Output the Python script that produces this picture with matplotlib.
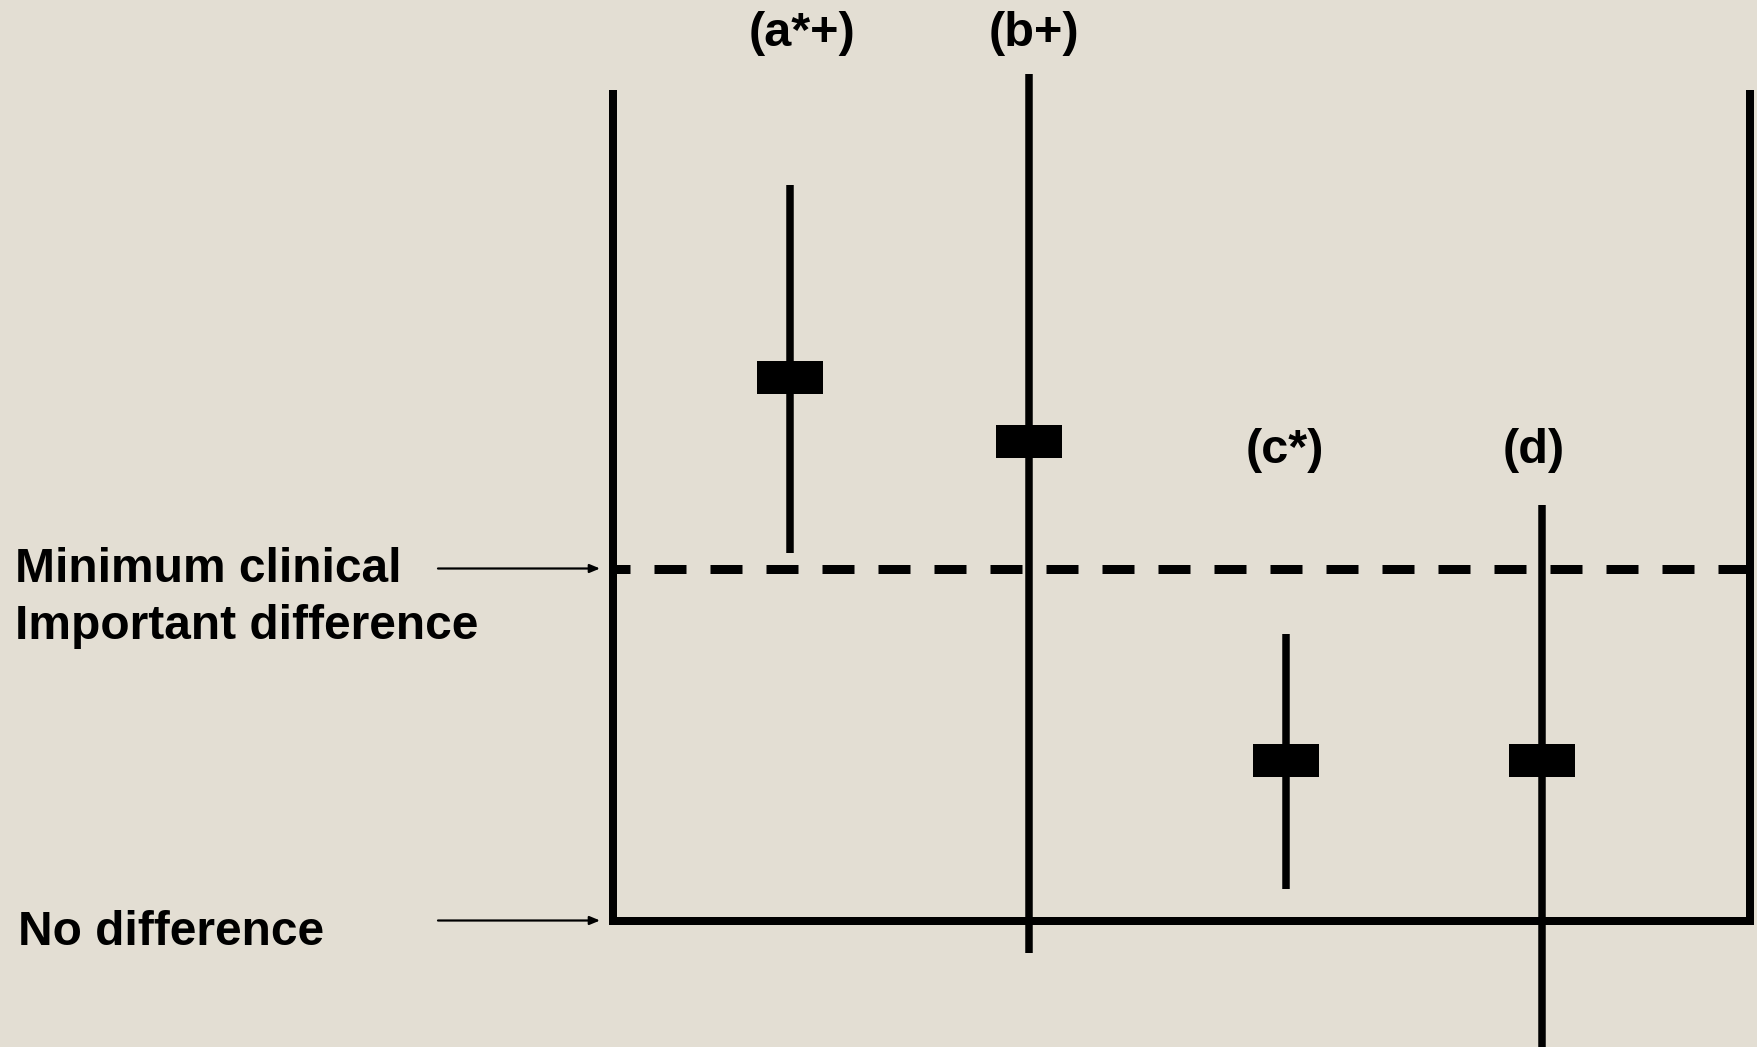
import matplotlib
matplotlib.use("Agg")
import matplotlib.pyplot as plt

# ---- data ----
labels = ["(a*+)", "(b+)", "(c*)", "(d)"]
estimates = [1.545, 1.363, 0.456, 0.456]
ci_low = [1.044, -0.092, 0.089, -0.50]
ci_high = [2.089, 2.405, 0.815, 1.180]
label_heights = [2.520, 2.520, 1.335, 1.335]
mcid_value = 1.0
no_diff_value = 0.0

# ---- layout ----
xpos = [1.56, 3.66, 5.92, 8.17]
label_dx = [0.10, 0.04, -0.01, -0.07]
BG = "#E3DED3"
FONT = ["Liberation Sans", "DejaVu Sans"]
PX = 72 / 100  # points per pixel at dpi 100

fig = plt.figure(figsize=(17.58, 10.47), dpi=100, facecolor=BG)
ax = fig.add_axes([613 / 1758, (1047 - 920.5) / 1047, (1750 - 613) / 1758,
                   (920.5 - 90) / 1047])
ax.set_facecolor(BG)
ax.set_xlim(0, 10)
ax.set_ylim(0, (920.5 - 90) / 352)
ax.set_xticks([])
ax.set_yticks([])
ax.spines["top"].set_visible(False)
for s in ["left", "right", "bottom"]:
    ax.spines[s].set_linewidth(8 * PX)
    ax.spines[s].set_color("black")
ax.spines["left"].set_capstyle("butt")
ax.spines["right"].set_capstyle("butt")
ax.spines["bottom"].set_capstyle("projecting")

# dashed MCID line
lw_d = 9 * PX
ax.axhline(mcid_value, color="black", lw=lw_d,
           linestyle=(15 * PX / lw_d, (32 * PX / lw_d, 24 * PX / lw_d)),
           zorder=1)

# intervals and estimates
rect = [(-1, -0.5), (1, -0.5), (1, 0.5), (-1, 0.5), (-1, -0.5)]
for x, est, lo, hi in zip(xpos, estimates, ci_low, ci_high):
    ax.plot([x, x], [lo, hi], color="black", lw=7.5 * PX, clip_on=False,
            solid_capstyle="butt", zorder=3)
    ax.plot([x], [est], marker=rect, markersize=66 * PX, color="black",
            markeredgewidth=0, clip_on=False, zorder=4)

for x, dx, lab, h in zip(xpos, label_dx, labels, label_heights):
    ax.text(x + dx, h, lab, ha="center", va="center", fontsize=35,
            fontweight="bold", family=FONT, clip_on=False)

# side labels and arrows
for yv, txt, tx, ty in [(mcid_value, "Minimum clinical\nImportant difference", 0.0085, 0.4290),
                        (no_diff_value, "No difference", 0.0105, 0.1094)]:
    ax.annotate("", xy=(-13 / 1137, yv), xycoords=("axes fraction", "data"),
                xytext=(-175 / 1137, yv), textcoords=("axes fraction", "data"),
                arrowprops=dict(arrowstyle="-|>,head_length=0.6,head_width=0.25",
                                color="black", lw=1.6, shrinkA=0, shrinkB=0),
                annotation_clip=False)
    fig.text(tx, ty, txt, ha="left", va="center", fontsize=34.5,
             fontweight="bold", family=FONT, linespacing=1.33)

fig.savefig("out.png", dpi=100, facecolor=BG)
